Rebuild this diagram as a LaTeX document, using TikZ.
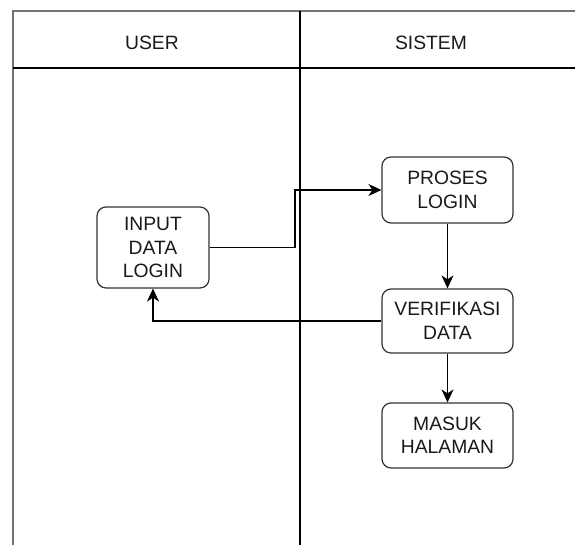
\documentclass[tikz,border=0pt]{standalone}
\usepackage{fontspec}
\setmainfont{Liberation Sans}
\usetikzlibrary{arrows.meta}
\begin{document}
\begin{tikzpicture}[x=1pt,y=-1pt,
  lane/.style={draw=black!55,line width=1.3pt},
  sep/.style={draw=black,line width=2pt},
  head/.style={font=\fontsize{19.3}{23}\selectfont,text=black!90},
  proc/.style={draw=black!80,line width=1.2pt,rounded corners=9pt,
    minimum width=131pt,align=center,inner sep=0pt,text=black!90,
    font=\fontsize{19.3}{23.5}\selectfont},
  flow/.style={draw=black,line width=1.2pt,-{Stealth[length=13pt,width=12pt,inset=4pt]}}]
\useasboundingbox (0,0) rectangle (575,545);
% swimlane frame
\draw[lane] (575,11) -- (13,11) -- (13,545);
\draw[sep] (13,68) -- (575,68);
\draw[sep] (299.5,11) -- (299.5,545);
\node[head] (huser) at (152,43) {USER};
\node[head] (hsys) at (431,43) {SISTEM};
% activities
\node[proc,minimum width=112pt,minimum height=81pt] (input) at (153,247.5) {INPUT\\DATA\\LOGIN};
\node[proc,minimum height=66pt] (proses) at (447.5,190) {PROSES\\LOGIN};
\node[proc,minimum height=64pt] (verif) at (447.5,321) {VERIFIKASI\\DATA};
\node[proc,minimum height=65pt] (masuk) at (447.5,435.5) {MASUK\\HALAMAN};
% connectors
\draw[flow] (input.east) -- (295,247.5) |- (proses.west);
\draw[flow] (proses) -- (verif);
\draw[flow] (verif.west) -| (input.south);
\draw[flow] (verif) -- (masuk);
\end{tikzpicture}
\end{document}
